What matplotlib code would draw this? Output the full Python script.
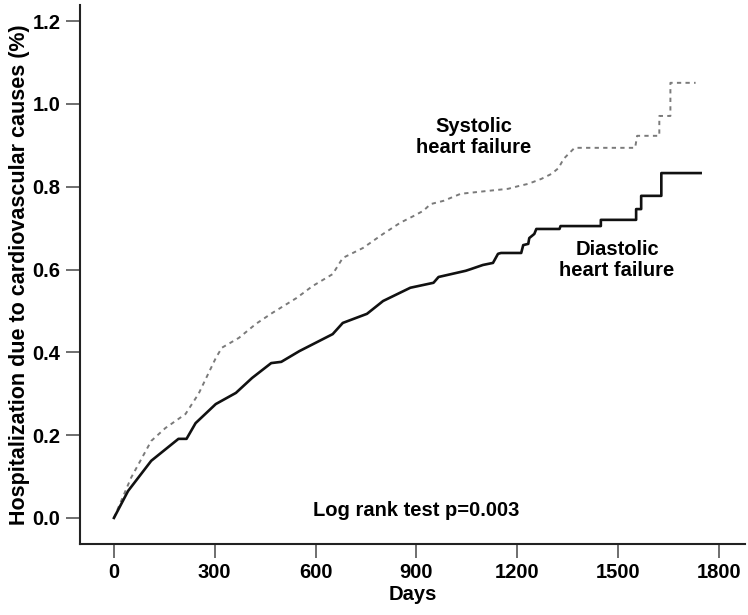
import matplotlib.pyplot as plt

plt.rcParams['font.family'] = ['Liberation Sans', 'DejaVu Sans']
plt.rcParams['font.weight'] = 'bold'

# diastolic heart failure (solid black)
dia_days = [0, 42, 111, 192, 216, 243, 303, 363, 411, 468, 498, 552, 651, 681,
            753, 801, 882, 951, 966, 993, 1047, 1062, 1098, 1128, 1143, 1152,
            1212, 1218, 1233, 1236, 1251, 1257, 1326, 1329, 1449, 1449, 1554,
            1554, 1569, 1569, 1629, 1629, 1746]
dia_vals = [0.0, 0.065, 0.138, 0.191, 0.191, 0.229, 0.275, 0.302, 0.338, 0.374,
            0.377, 0.403, 0.444, 0.471, 0.493, 0.524, 0.556, 0.568, 0.582, 0.587,
            0.597, 0.601, 0.611, 0.616, 0.638, 0.640, 0.640, 0.659, 0.662, 0.676,
            0.686, 0.698, 0.698, 0.705, 0.705, 0.720, 0.720, 0.746, 0.746, 0.778,
            0.778, 0.833, 0.833]

# systolic heart failure (dashed grey)
sys_days = [0, 51, 111, 153, 213, 252, 303, 321, 372, 423, 471, 543, 591, 651,
            681, 741, 801, 852, 891, 921, 942, 981, 1032, 1113, 1173, 1206, 1233,
            1272, 1302, 1323, 1338, 1356, 1371, 1551, 1557, 1623, 1623, 1656,
            1656, 1731]
sys_vals = [0.0, 0.097, 0.186, 0.217, 0.251, 0.300, 0.386, 0.411, 0.435, 0.469,
            0.495, 0.531, 0.560, 0.589, 0.628, 0.652, 0.686, 0.713, 0.729, 0.742,
            0.758, 0.766, 0.783, 0.790, 0.795, 0.802, 0.807, 0.819, 0.831, 0.845,
            0.867, 0.882, 0.894, 0.894, 0.923, 0.923, 0.971, 0.971, 1.051, 1.051]

x_ticks = [0, 300, 600, 900, 1200, 1500, 1800]
y_ticks = [0.0, 0.2, 0.4, 0.6, 0.8, 1.0, 1.2]

fig = plt.figure(figsize=(7.48, 6.15), dpi=100)
ax = fig.add_axes([80 / 748, 1 - 544 / 615, 665 / 748, 539 / 615])

ax.plot(sys_days, sys_vals, color='#7a7a7a', lw=1.4, linestyle=(0, (2.2, 2.2)))
ax.plot(dia_days, dia_vals, color='#111111', lw=1.9)

ax.set_xlim(-101, 1878)
ax.set_ylim(-0.063, 1.239)
ax.set_xticks(x_ticks)
ax.set_yticks(y_ticks)
ax.set_yticklabels(['%.1f' % v for v in y_ticks])

for s in ['top', 'right']:
    ax.spines[s].set_visible(False)
for s in ['left', 'bottom']:
    ax.spines[s].set_linewidth(1.5)
    ax.spines[s].set_color('#222222')
ax.tick_params(direction='out', length=10, width=1.2, color='#555555',
               labelsize=14.5, pad=4)
for lab in ax.get_xticklabels() + ax.get_yticklabels():
    lab.set_fontweight('bold')

ax.set_xlabel('Days', fontsize=14.5, fontweight='bold', labelpad=2)
ax.set_ylabel('Hospitalization due to cardiovascular causes (%)', fontsize=15.5,
              fontweight='bold', labelpad=2)

ax.text(1070, 0.921, 'Systolic\nheart failure', ha='center', va='center',
        fontsize=14.5, fontweight='bold', linespacing=1.15)
ax.text(1497, 0.623, 'Diastolic\nheart failure', ha='center', va='center',
        fontsize=14.5, fontweight='bold', linespacing=1.15)
ax.text(900, 0.017, 'Log rank test p=0.003', ha='center', va='center',
        fontsize=14.5, fontweight='bold')

fig.savefig('out.png', dpi=100)
